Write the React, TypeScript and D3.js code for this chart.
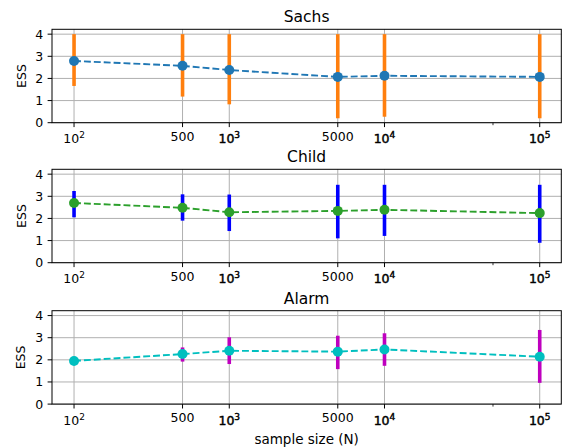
import React from "react";
import * as d3 from "d3";

const sampleSizes = [100, 500, 1000, 5000, 10000, 100000];
const xTickText = ["10^2", "500", "10^3", "5000", "10^4", "10^5"];
const xTickHeavy = [false, false, true, false, true, true];
const xMinorTicks = [50000];
const yTicks = [0, 1, 2, 3, 4];

const sachsMean = [2.79, 2.57, 2.38, 2.07, 2.12, 2.07];
const sachsLow = [1.66, 1.18, 0.83, 0.2, 0.27, 0.2];
const sachsHigh = [4.0, 4.0, 4.0, 4.0, 4.0, 4.0];

const childMean = [2.7, 2.48, 2.28, 2.34, 2.39, 2.24];
const childLow = [2.05, 1.9, 1.43, 1.1, 1.21, 0.9];
const childHigh = [3.24, 3.09, 3.08, 3.52, 3.52, 3.52];

const alarmMean = [1.95, 2.26, 2.41, 2.37, 2.47, 2.14];
const alarmLow = [1.95, 1.92, 1.81, 1.58, 1.73, 0.96];
const alarmHigh = [1.95, 2.56, 3.02, 3.09, 3.2, 3.35];

const panels = [
  { title: "Sachs", mean: sachsMean, low: sachsLow, high: sachsHigh, color: "#1f77b4", ecolor: "#ff7f0e", top: 29.3 },
  { title: "Child", mean: childMean, low: childLow, high: childHigh, color: "#2ca02c", ecolor: "#0000ff", top: 169.3 },
  { title: "Alarm", mean: alarmMean, low: alarmLow, high: alarmHigh, color: "#00bfbf", ecolor: "#bf00bf", top: 310.7 },
];

const W = 564;
const H = 448;
const left = 52;
const right = 561.3;
const panelH = 93.4;
const FS = 12.5;
const FONT = "DejaVu Sans, sans-serif";

const x = d3.scaleLog().domain([Math.pow(10, 1.858), Math.pow(10, 5.139)]).range([left, right]);

function TickLabel({ t, heavy, px, py }: { t: string; heavy: boolean; px: number; py: number }) {
  const stroke = heavy ? { stroke: "#000", strokeWidth: 0.45 } : {};
  if (t.includes("^")) {
    const [b, e] = t.split("^");
    return (
      <text x={px} y={py + 2.3} textAnchor="middle" fontSize={FS} fontFamily={FONT} fill="#000" {...stroke}>
        {b}
        <tspan fontSize={FS * 0.72} dy={-5.2}>{e}</tspan>
      </text>
    );
  }
  return (
    <text x={px} y={py} textAnchor="middle" fontSize={FS} fontFamily={FONT} fill="#000" {...stroke}>
      {t}
    </text>
  );
}

function Panel({ p }: { p: (typeof panels)[number] }) {
  const bottom = p.top + panelH;
  const y = d3.scaleLinear().domain([0, 4.22]).range([bottom, p.top]);
  const line = d3
    .line<number>()
    .x((_, i) => x(sampleSizes[i]))
    .y((d) => y(d));
  return (
    <g>
      {sampleSizes.map((s) => (
        <line key={"gx" + s} x1={x(s)} x2={x(s)} y1={p.top} y2={bottom} stroke="#b0b0b0" strokeWidth={1} />
      ))}
      {yTicks.map((v) => (
        <line key={"gy" + v} x1={left} x2={right} y1={y(v)} y2={y(v)} stroke="#b0b0b0" strokeWidth={1} />
      ))}
      {sampleSizes.map((s, i) =>
        p.high[i] - p.low[i] > 0.01 ? (
          <line key={"e" + s} x1={x(s)} x2={x(s)} y1={y(p.low[i])} y2={y(p.high[i])} stroke={p.ecolor} strokeWidth={3.6} />
        ) : null
      )}
      <path d={line(p.mean) || ""} fill="none" stroke={p.color} strokeWidth={1.9} strokeDasharray="6.9 3" />
      {sampleSizes.map((s, i) => (
        <circle key={"m" + s} cx={x(s)} cy={y(p.mean[i])} r={5} fill={p.color} />
      ))}
      <rect x={left} y={p.top} width={right - left} height={panelH} fill="none" stroke="#000" strokeWidth={1} />
      {yTicks.map((v) => (
        <g key={"yt" + v}>
          <line x1={left - 4.4} x2={left} y1={y(v)} y2={y(v)} stroke="#000" strokeWidth={1} />
          <text x={left - 8.8} y={y(v)} dy="0.36em" textAnchor="end" fontSize={FS} fontFamily={FONT} fill="#000">
            {v}
          </text>
        </g>
      ))}
      {sampleSizes.map((s, i) => (
        <g key={"xt" + s}>
          <line x1={x(s)} x2={x(s)} y1={bottom} y2={bottom + 4.4} stroke="#000" strokeWidth={1} />
          <TickLabel t={xTickText[i]} heavy={xTickHeavy[i]} px={x(s)} py={bottom + 18.3} />
        </g>
      ))}
      {xMinorTicks.map((s) => (
        <line key={"mt" + s} x1={x(s)} x2={x(s)} y1={bottom} y2={bottom + 2.5} stroke="#000" strokeWidth={0.8} />
      ))}
      <text
        x={21}
        y={(p.top + bottom) / 2}
        transform={`rotate(-90, 21, ${(p.top + bottom) / 2})`}
        textAnchor="middle"
        dy="0.36em"
        fontSize={FS}
        fontFamily={FONT}
        fill="#000"
      >
        ESS
      </text>
      <text x={(left + right) / 2} y={p.top - 7} textAnchor="middle" fontSize={15.5} fontFamily={FONT} fill="#000">
        {p.title}
      </text>
    </g>
  );
}

export default function App() {
  return (
    <svg width={W} height={H} style={{ position: "absolute", left: 0, top: 0, background: "#fff" }}>
      <rect width={W} height={H} fill="#fff" />
      {panels.map((p) => (
        <Panel key={p.title} p={p} />
      ))}
      <text x={(left + right) / 2} y={444} textAnchor="middle" fontSize={13.5} fontFamily={FONT} fill="#000">
        sample size (N)
      </text>
    </svg>
  );
}
